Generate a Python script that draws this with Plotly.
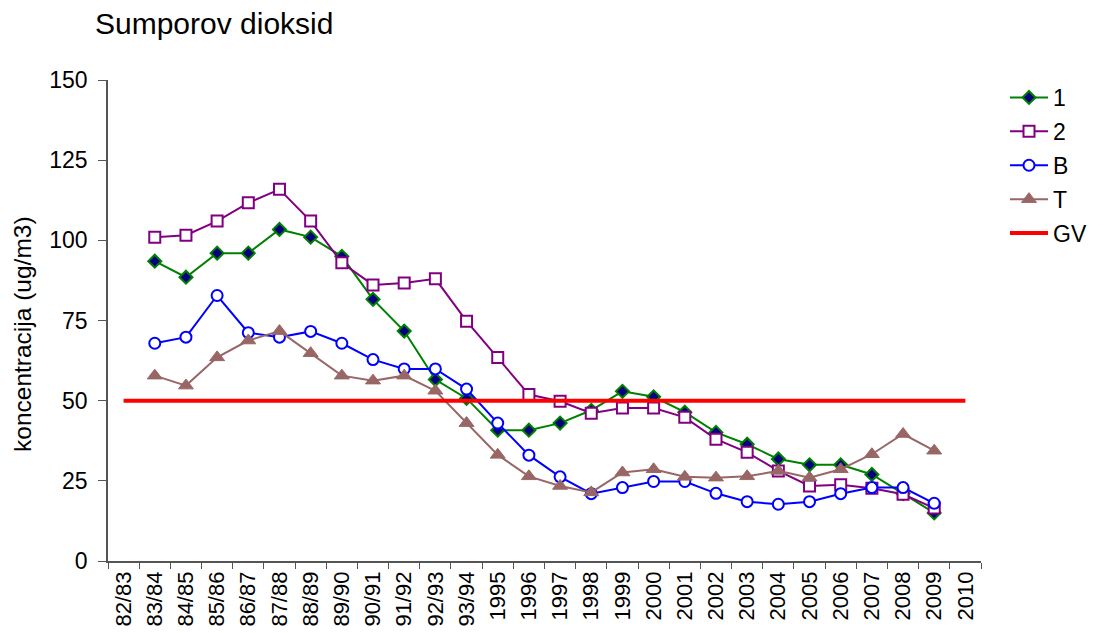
import plotly.graph_objects as go

categories = ["82/83", "83/84", "84/85", "85/86", "86/87", "87/88", "88/89", "89/90",
              "90/91", "91/92", "92/93", "93/94", "1995", "1996", "1997", "1998",
              "1999", "2000", "2001", "2002", "2003", "2004", "2005", "2006",
              "2007", "2008", "2009", "2010"]

s1 = [None, 93.5, 88.5, 96, 96, 103.4, 101, 95, 81.6, 71.7, 56.6, 50.7,
      40.8, 40.8, 43, 47, 52.9, 51.2, 46.4, 40.1, 36.4, 31.8, 30, 30, 27, 21, 15, None]
s2 = [None, 101, 101.6, 106, 111.7, 115.9, 106, 93, 86.1, 86.7, 88, 74.8,
      63.5, 51.9, 49.8, 46.1, 47.7, 47.7, 44.8, 38, 33.9, 28.1, 23.4, 23.75, 22.7, 20.8, 16.5, None]
sB = [None, 67.9, 69.8, 82.8, 71.2, 69.8, 71.6, 67.9, 62.8, 59.9, 59.9, 53.6,
      43, 33, 26.25, 21, 22.9, 24.8, 24.8, 21.1, 18.5, 17.7, 18.5, 21, 22.9, 22.9, 18, None]
sT = [None, 57.8, 54.7, 63.5, 68.75, 71.7, 64.8, 57.8, 56.25, 57.8, 53.1, 43,
      33.1, 26.4, 23.4, 21.4, 27.6, 28.6, 26.25, 26, 26.4, 28.1, 26, 28.6, 33.3, 39.6, 34.4, None]
gv = [50] * len(categories)

y_ticks = [0, 25, 50, 75, 100, 125, 150]

FONT = "Liberation Sans, Arial, sans-serif"

fig = go.Figure()
fig.add_trace(go.Scatter(x=categories, y=s1, name="1", mode="lines+markers", legendgroup="g1",
                         line=dict(color="#008000", width=2),
                         marker=dict(symbol="diamond", size=10, color="#000080",
                                     line=dict(color="#008000", width=2))))
fig.add_trace(go.Scatter(x=categories, y=s2, name="2", mode="lines+markers", legendgroup="g2",
                         line=dict(color="#800080", width=2),
                         marker=dict(symbol="square", size=11, color="white",
                                     line=dict(color="#800080", width=2))))
fig.add_trace(go.Scatter(x=categories, y=sB, name="B", mode="lines+markers", legendgroup="g3",
                         line=dict(color="#0000FF", width=2),
                         marker=dict(symbol="circle", size=11, color="white",
                                     line=dict(color="#0000FF", width=2))))
fig.add_trace(go.Scatter(x=categories, y=sT, name="T", mode="lines+markers", legendgroup="g4",
                         line=dict(color="#996666", width=2),
                         marker=dict(symbol="triangle-up", size=13, color="#996666",
                                     line=dict(color="#996666", width=1))))
fig.add_trace(go.Scatter(x=categories, y=gv, name="GV", mode="lines", legendgroup="g5",
                         line=dict(color="#FF0000", width=4)))

# page has an 8px body margin; figure coordinates are page - 8
W, H = 1110, 625
L, T = 100, 72
R = W - 973
B = H - 553
pw = W - L - R
ph = H - T - B

fig.update_layout(
    width=W, height=H,
    margin=dict(l=L, r=R, t=T, b=B, autoexpand=False),
    paper_bgcolor="white", plot_bgcolor="white",
    font=dict(family=FONT, color="black"),
    showlegend=True,
    title=dict(text="Sumporov dioksid", font=dict(size=30, family=FONT, color="black"),
               x=87 / W, xanchor="left", xref="container",
               y=1 - 15 / H, yanchor="middle", yref="container"),
    legend=dict(x=(997 - L) / pw, xanchor="left", y=1.0 + 4 / ph, yanchor="top",
                font=dict(size=23, family=FONT), itemwidth=38,
                bgcolor="rgba(0,0,0,0)", tracegroupgap=1),
    xaxis=dict(type="category", categoryorder="array", categoryarray=categories,
               range=[-0.5, len(categories) - 0.5], showgrid=False, zeroline=False,
               showline=True, linecolor="#555555", linewidth=1.5,
               ticks="outside", tickson="boundaries", ticklen=6, tickcolor="#555555",
               tickangle=-90, tickfont=dict(size=22, family=FONT), automargin=False),
    yaxis=dict(range=[0, 150], tickvals=y_ticks, showgrid=False, zeroline=False,
               showline=True, linecolor="#555555", linewidth=1.5,
               ticks="outside", ticklen=8, tickcolor="#555555",
               tickfont=dict(size=23, family=FONT), ticklabelstandoff=6,
               automargin=False),
    annotations=[dict(text="koncentracija (ug/m3)", textangle=-90,
                      xref="paper", yref="paper", x=(14 - L) / pw, y=(561 - 334) / 481,
                      xanchor="center", yanchor="middle", showarrow=False,
                      font=dict(size=24.5, family=FONT, color="black"))],
)

fig.write_html("out.html")
